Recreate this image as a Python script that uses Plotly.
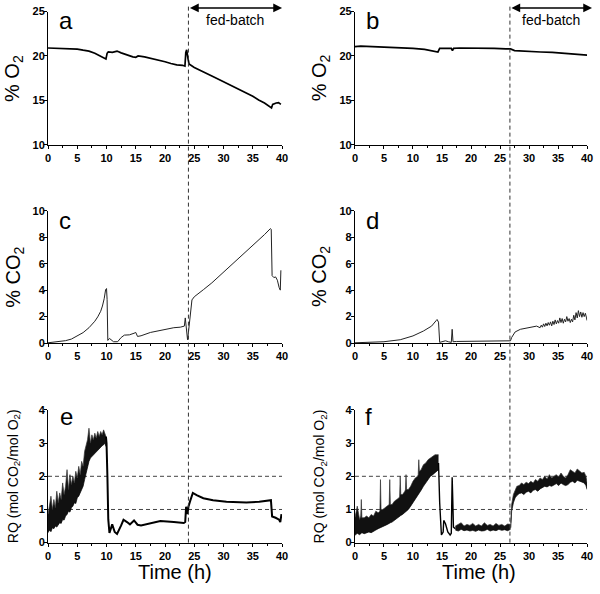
import plotly.graph_objects as go

# ---------------- data ----------------
x_ticks = [0, 5, 10, 15, 20, 25, 30, 35, 40]
o2_ticks = [10, 15, 20, 25]
co2_ticks = [0, 2, 4, 6, 8, 10]
rq_ticks = [0, 1, 2, 3, 4]
panel_letters = ["a", "b", "c", "d", "e", "f"]
feed_start = [24.0, 26.7]
rq_ref_levels = [1, 2]

# panel a: % O2, run 1
a_t = [0, 2, 4, 5, 6, 7, 8, 9, 9.9, 10.1, 10.3, 11, 11.8, 12.5, 13.5, 14.5, 15.0, 15.4, 16.5, 18, 19, 20, 21,
       22, 23, 23.4, 23.55, 23.7, 23.9, 24.1, 25, 26, 27, 28, 30, 32, 33, 34, 35, 36, 37, 38.2, 38.4, 39, 39.4, 39.8]
a_v = [20.9, 20.88, 20.85, 20.78, 20.65, 20.55, 20.3, 20.0, 19.65, 20.3, 20.45, 20.4, 20.55, 20.35, 20.1, 19.9,
       19.85, 20.0, 19.9, 19.7, 19.55, 19.35, 19.15, 19.0, 18.95, 18.85, 20.4, 20.7, 19.8, 19.1, 18.7, 18.4, 18.1,
       17.75, 17.1, 16.45, 16.15, 15.8, 15.45, 15.05, 14.7, 14.15, 14.55, 14.7, 14.75, 14.55]

# panel b: % O2, run 2
b_t = [0, 1, 3, 5, 8, 10, 12, 13.5, 14.3, 14.6, 15.2, 16.0, 16.6, 16.8, 17.0, 18, 20, 22, 24, 26, 26.8, 27.5,
       28.5, 30, 32, 34, 36, 38, 39, 40]
b_v = [21.05, 21.1, 21.05, 21.0, 20.95, 20.85, 20.75, 20.6, 20.45, 20.85, 20.85, 20.9, 20.85, 20.6, 20.85, 20.9,
       20.9, 20.85, 20.85, 20.8, 20.8, 20.6, 20.55, 20.55, 20.45, 20.4, 20.3, 20.15, 20.1, 20.1]

# panel c: % CO2, run 1
c_t = [0, 2, 3, 4, 5, 6, 7, 8, 8.5, 9, 9.3, 9.6, 9.85, 10.0, 10.1, 10.22, 10.5, 10.8, 11.2, 11.9, 12.5, 13.05,
       13.9, 14.7, 15.0, 15.3, 15.9, 17.5, 19.8, 21.5, 22.6, 23.3, 23.46, 23.6, 23.75, 23.85, 24.0, 24.3, 24.6,
       25.0, 26.0, 26.6, 28, 30, 32, 34, 36, 37, 38.0, 38.15, 38.3, 38.6, 38.9, 39.2, 39.5, 39.7, 39.8]
c_v = [0.02, 0.1, 0.18, 0.3, 0.54, 0.79, 1.16, 1.65, 1.98, 2.4, 2.8, 3.35, 4.05, 4.12, 3.3, 0.2, 0.35, 0.25, 0.1,
       0.1, 0.42, 0.6, 0.62, 0.74, 0.8, 0.5, 0.55, 0.8, 1.04, 1.16, 1.2, 1.28, 1.9, 1.04, 0.54, 0.25, 0.8, 2.27,
       3.26, 3.5, 3.88, 4.05, 4.55, 5.35, 6.15, 6.95, 7.8, 8.2, 8.65, 8.6, 5.1, 4.95, 5.0, 4.75, 4.2, 4.0, 5.5]

# panel d: % CO2, run 2
d_t = [0, 2.5, 5, 7.8, 10, 11.8, 13.2, 14.0, 14.15, 14.4, 14.6, 15.0, 15.6, 16.1, 16.6, 16.75, 16.9, 17.5, 21.4,
       24, 26.8, 27.0, 27.6, 28.5, 29.9, 31.3, 31.9, 32.1, 32.3, 32.5, 32.7, 32.9, 33.1, 33.3, 33.5, 33.7, 33.9,
       34.1, 34.3, 34.5, 34.7, 34.9, 35.1, 35.3, 35.5, 35.7, 35.9, 36.1, 36.3, 36.5, 36.7, 36.9, 37.1, 37.3,
       37.5, 37.7, 37.9, 38.1, 38.3, 38.5, 38.7, 38.9, 39.1, 39.3, 39.5, 39.7, 39.9, 40.0]
d_v = [0.02, 0.05, 0.1, 0.25, 0.54, 0.91, 1.28, 1.7, 1.78, 1.58, 0.05, 0.1, 0.17, 0.1, 0.05, 1.04, 0.1, 0.12,
       0.12, 0.14, 0.17, 0.42, 0.84, 1.04, 1.16, 1.28, 1.16, 1.35, 1.2, 1.45, 1.25, 1.5, 1.3, 1.55, 1.35, 1.6,
       1.3, 1.65, 1.4, 1.75, 1.45, 1.7, 1.5, 1.9, 1.55, 1.85, 1.5, 1.8, 1.6, 2.0, 1.65, 1.85, 1.55, 1.8, 1.6,
       2.1, 1.75, 2.3, 1.9, 2.45, 2.0, 2.35, 1.95, 2.3, 2.0, 2.25, 1.9, 1.7]

# panel e: RQ, run 1 (noisy band 0-9.9 h read as lower/upper envelope, then trace)
e_band_t = [0, 0.25, 0.5, 0.75, 1.0, 1.25, 1.5, 1.75, 2.0, 2.25, 2.5, 2.75, 3.0, 3.25, 3.5, 3.75, 4.0, 4.25, 4.5,
            4.75, 5.0, 5.25, 5.5, 5.75, 6.0, 6.25, 6.5, 6.75, 7.0, 7.25, 7.5, 7.75, 8.0, 8.25, 8.5, 8.75, 9.0,
            9.25, 9.5, 9.75, 9.9]
e_hi = [0.85, 1.1, 1.4, 1.0, 1.3, 1.05, 1.55, 1.2, 1.5, 1.3, 1.8, 1.45, 1.7, 2.2, 1.6, 2.05, 1.75, 2.0, 1.8, 2.15,
        1.95, 2.3, 2.05, 2.45, 2.3, 2.75, 2.9, 3.1, 3.45, 3.0, 3.25, 3.1, 3.3, 3.15, 3.35, 3.2, 3.35, 3.25, 3.4,
        3.3, 3.2]
e_lo = [0.3, 0.38, 0.33, 0.45, 0.42, 0.5, 0.47, 0.55, 0.6, 0.58, 0.7, 0.68, 0.8, 0.85, 0.95, 0.92, 1.05, 1.1, 1.2,
        1.18, 1.35, 1.4, 1.5, 1.55, 1.7, 1.9, 2.1, 2.3, 2.45, 2.55, 2.6, 2.62, 2.7, 2.75, 2.8, 2.85, 2.9, 2.92,
        2.95, 3.0, 2.9]
e_t = [9.9, 10.0, 10.15, 10.3, 10.5, 10.97, 11.4, 11.8, 12.5, 12.9, 13.5, 14.0, 14.7, 15.3, 15.9, 17.5, 19.2,
       21.5, 23.2, 23.45, 23.6, 23.85, 24.0, 24.3, 24.75, 25.4, 26.55, 28.2, 30.5, 33.9, 36.1, 38.1, 38.3, 38.9,
       39.5, 39.7, 39.9]
e_v = [3.2, 3.0, 2.0, 0.7, 0.29, 0.55, 0.32, 0.26, 0.52, 0.69, 0.62, 0.55, 0.67, 0.54, 0.52, 0.59, 0.65, 0.62,
       0.59, 0.62, 1.08, 0.86, 1.08, 1.26, 1.5, 1.43, 1.34, 1.28, 1.23, 1.21, 1.23, 1.28, 0.79, 0.75, 0.69, 0.62,
       0.86]

# panel f: RQ, run 2
f1_t = [0, 0.4, 0.8, 1.0, 1.1, 1.2, 1.6, 2.0, 2.4, 2.8, 3.2, 3.6, 4.0, 4.3, 4.4, 4.5, 4.8, 5.2, 5.6, 5.9, 6.0,
        6.1, 6.4, 6.8, 7.2, 7.6, 7.7, 7.8, 7.9, 8.2, 8.6, 8.7, 8.8, 8.9, 9.2, 9.6, 10.0, 10.4, 10.8, 10.9, 11.0,
        11.1, 11.4, 11.8, 12.2, 12.6, 13.0, 13.4, 13.8, 14.1, 14.4]
f1_hi = [0.75, 1.1, 0.7, 0.8, 1.3, 0.75, 0.75, 0.8, 0.75, 0.85, 0.8, 0.95, 0.9, 0.95, 1.9, 1.0, 1.0, 1.05, 1.1,
         1.15, 1.9, 1.15, 1.15, 1.25, 1.3, 1.35, 1.4, 2.0, 1.45, 1.45, 1.55, 1.6, 2.05, 1.6, 1.6, 1.7, 1.85, 1.95,
         2.0, 2.05, 2.5, 2.15, 2.2, 2.35, 2.4, 2.5, 2.55, 2.6, 2.65, 2.65, 2.65]
f1_lo = [0.22, 0.28, 0.24, 0.26, 0.28, 0.3, 0.27, 0.3, 0.32, 0.3, 0.35, 0.38, 0.42, 0.44, 0.45, 0.46, 0.48, 0.5,
         0.55, 0.58, 0.6, 0.6, 0.62, 0.68, 0.72, 0.78, 0.8, 0.81, 0.82, 0.85, 0.9, 0.92, 0.95, 0.96, 1.0, 1.1,
         1.2, 1.3, 1.42, 1.45, 1.48, 1.5, 1.58, 1.7, 1.8, 1.9, 2.0, 2.05, 2.1, 2.15, 2.2]
f_t = [14.4, 14.6, 14.9, 15.2, 15.3, 15.6, 16.0, 16.4, 16.6, 16.75, 16.86, 16.97, 17.3]
f_v = [2.4, 1.2, 0.23, 0.32, 0.67, 0.57, 0.32, 0.23, 0.28, 1.97, 1.26, 0.47, 0.42]
f2_t = [17.3, 17.8, 18.3, 18.8, 19.3, 19.8, 20.3, 20.8, 21.3, 21.8, 22.3, 22.8, 23.3, 23.8, 24.3, 24.8, 25.3,
        25.8, 26.3, 26.8]
f2_lo = [0.38, 0.35, 0.4, 0.36, 0.38, 0.35, 0.37, 0.34, 0.38, 0.35, 0.36, 0.4, 0.35, 0.38, 0.36, 0.4, 0.37, 0.39,
         0.36, 0.4]
f2_hi = [0.5, 0.55, 0.6, 0.5, 0.55, 0.52, 0.58, 0.5, 0.55, 0.5, 0.6, 0.52, 0.55, 0.5, 0.58, 0.52, 0.55, 0.5,
         0.56, 0.55]
f3_t = [26.85, 27.0, 27.3, 27.6, 27.9, 28.3, 28.7, 29.1, 29.5, 29.9, 30.3, 30.7, 31.1, 31.5, 31.9, 32.3, 32.7,
        33.1, 33.5, 33.9, 34.3, 34.7, 35.1, 35.5, 35.9, 36.3, 36.7, 37.1, 37.5, 37.9, 38.3, 38.7, 39.1, 39.5,
        39.8, 40.0]
f3_lo = [0.45, 0.95, 1.2, 1.35, 1.42, 1.48, 1.5, 1.45, 1.52, 1.55, 1.5, 1.58, 1.6, 1.55, 1.62, 1.65, 1.7, 1.68,
         1.72, 1.7, 1.75, 1.78, 1.72, 1.8, 1.75, 1.72, 1.75, 1.82, 1.85, 1.8, 1.88, 1.85, 1.82, 1.8, 1.72, 1.6]
f3_hi = [0.6, 1.15, 1.45, 1.6, 1.7, 1.72, 1.8, 1.75, 1.82, 1.78, 1.85, 1.8, 1.9, 1.85, 1.95, 1.9, 2.0, 1.92,
         2.05, 1.95, 2.0, 2.05, 1.98, 2.1, 2.0, 1.95, 2.05, 2.2, 2.15, 2.1, 2.22, 2.15, 2.1, 2.12, 2.0, 1.8]

# ---------------- figure ----------------
FONT = "Liberation Sans, Arial, sans-serif"
fig = go.Figure()


def line(t, v, ax, width=1.5, color="black"):
    fig.add_trace(go.Scatter(x=t, y=v, mode="lines", xaxis="x" + ax, yaxis="y" + ax,
                             line=dict(color=color, width=width), showlegend=False, hoverinfo="skip"))


def band(t, lo, hi, ax):
    fig.add_trace(go.Scatter(x=t, y=lo, mode="lines", xaxis="x" + ax, yaxis="y" + ax,
                             line=dict(color="black", width=0.7), showlegend=False, hoverinfo="skip"))
    fig.add_trace(go.Scatter(x=t, y=hi, mode="lines", xaxis="x" + ax, yaxis="y" + ax, fill="tonexty",
                             fillcolor="#111", line=dict(color="#333", width=0.7),
                             showlegend=False, hoverinfo="skip"))


line(a_t, a_v, "", 1.7)
line(b_t, b_v, "2", 1.7)
line(c_t, c_v, "3", 1.0, "#222")
line(d_t, d_v, "4", 1.0, "#222")
band(e_band_t, e_lo, e_hi, "5")
line(e_t, e_v, "5", 2.0)
band(f1_t, f1_lo, f1_hi, "6")
line(f_t, f_v, "6", 1.4)
band(f2_t, f2_lo, f2_hi, "6")
band(f3_t, f3_lo, f3_hi, "6")

col_x = [[45.7 / 600, 283.3 / 600], [357.3 / 600, 593 / 600]]
row_y = [[1 - 141.6 / 594, 1 - 5.7 / 594], [1 - 344 / 594, 1 - 209 / 594], [1 - 547.7 / 594, 1 - 412.3 / 594]]

tickfont = dict(family=FONT, size=11, color="black", weight="bold")


def axis_style(**kw):
    d = dict(showline=True, linecolor="black", linewidth=1, mirror=False, showgrid=False, zeroline=False,
             ticks="outside", ticklen=3, tickwidth=1, tickcolor="black", tickfont=tickfont, fixedrange=True)
    d.update(kw)
    return d


yspecs = [(o2_ticks, [10, 25]), (co2_ticks, [0, 10]), (rq_ticks, [0, 4])]
layout = {}
for i in range(6):
    r, c = divmod(i, 2)
    sfx = "" if i == 0 else str(i + 1)
    ticks, rng = yspecs[r]
    layout["xaxis" + sfx] = axis_style(domain=col_x[c], range=[0, 40], tickvals=x_ticks,
                                       anchor="y" + sfx, minor=dict(ticks="outside", ticklen=2,
                                                                      tickcolor="black", dtick=2.5))
    layout["yaxis" + sfx] = axis_style(domain=row_y[r], range=rng, tickvals=ticks, anchor="x" + sfx,
                                       ticklabelstandoff=-3)

shapes = []
# feeding start lines (span all three rows)
for ci, xs in enumerate(feed_start):
    shapes.append(dict(type="line", xref="x" if ci == 0 else "x2", yref="paper", x0=xs, x1=xs,
                       y0=row_y[2][0], y1=1.0, line=dict(color="#333", width=1, dash="4px,3px")))
# RQ reference levels
for ax in ["5", "6"]:
    for lv in rq_ref_levels:
        shapes.append(dict(type="line", xref="x" + ax, yref="y" + ax, x0=0, x1=40, y0=lv, y1=lv,
                           line=dict(color="#444", width=1, dash="4px,3px"), layer="below"))

annotations = []
# panel letters
letter_px = [(64, 14.5), (375, 14.5), (63, 218.5), (375, 218.5), (64, 418.5), (371, 418.5)]
for L, (px, py) in zip(panel_letters, letter_px):
    annotations.append(dict(text=L, xref="paper", yref="paper", x=px / 600, y=1 - py / 594,
                            xanchor="center", yanchor="middle", showarrow=False,
                            font=dict(family=FONT, size=24, color="black"), bgcolor="white"))
# y titles
ytitles = ["% O<sub>2</sub>", "% CO<sub>2</sub>", "RQ (mol CO<sub>2</sub>/mol O<sub>2</sub>)"]
ysizes = [20, 20, 14]
ytx = [[10, 322], [12, 323], [11, 322]]
for r in range(3):
    for c in range(2):
        annotations.append(dict(text=ytitles[r], xref="paper", yref="paper", x=ytx[r][c] / 600,
                                y=sum(row_y[r]) / 2, textangle=-90, showarrow=False, xanchor="center",
                                yanchor="middle", font=dict(family=FONT, size=ysizes[r], color="black")))
# x titles
for c, px in enumerate([175, 483]):
    annotations.append(dict(text="Time (h)", xref="paper", yref="paper", x=px / 600, y=1 - 578 / 594,
                            showarrow=False, xanchor="center", yanchor="middle",
                            font=dict(family=FONT, size=20, color="black")))
# fed-batch arrows and labels
arrow_end = [40.0, 40.85]
for ci, (xs, xe) in enumerate(zip(feed_start, arrow_end)):
    xr = "x" if ci == 0 else "x2"
    annotations.append(dict(text="", xref=xr, yref="paper", x=xe, y=1 - 2 / 594, axref=xr, ax=xs,
                            ayref="pixel", ay=0, showarrow=True, arrowside="end+start", arrowhead=2,
                            arrowsize=1.1, arrowwidth=1.6, arrowcolor="black", standoff=0, startstandoff=0))
    annotations.append(dict(text="fed-batch", xref=xr, yref="paper", x=(xs + xe) / 2, y=1 - 14 / 594,
                            showarrow=False, xanchor="center", yanchor="middle",
                            font=dict(family=FONT, size=14, color="black")))

fig.update_layout(width=600, height=594, margin=dict(l=0, r=0, t=0, b=0), paper_bgcolor="white",
                  plot_bgcolor="white", shapes=shapes, annotations=annotations, showlegend=False, **layout)

fig.write_html("out.html", config={"displayModeBar": False},
               post_script="document.body.style.margin='0';document.body.style.padding='0';")
